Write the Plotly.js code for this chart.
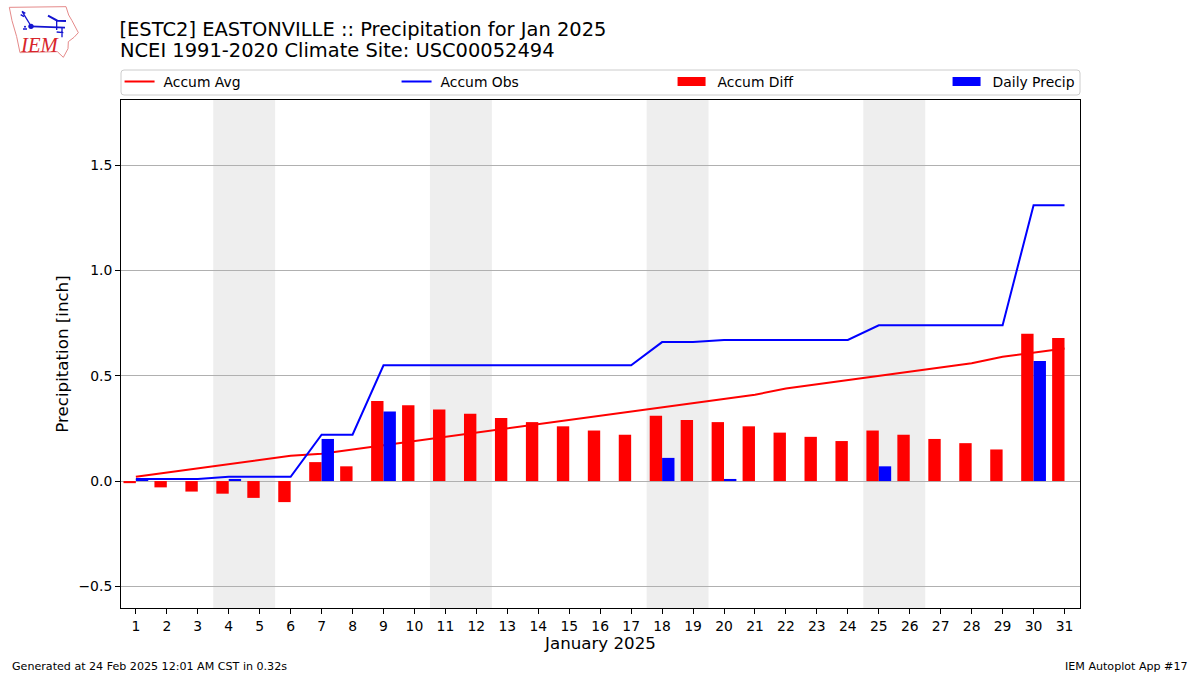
<!DOCTYPE html>
<html>
<head>
<meta charset="utf-8">
<script src="https://cdn.plot.ly/plotly-3.0.1.min.js"></script>
<style>
html,body{margin:0;padding:0;background:#fff;overflow:hidden}
#chart{width:1200px;height:675px}
#logo{position:absolute;left:0;top:0;width:100px;height:60px;pointer-events:none}
</style>
</head>
<body>
<div id="chart"></div>
<svg id="logo" viewBox="0 0 300 180">
<path d="M28 22 L198 20 L206 45 L216 62 L235 98 L222 112 L205 125 L204 146 L190 172 L172 155 L60 158 L50 110 L36 62 Z" fill="none" stroke="#e58a8a" stroke-width="3"/>
<g stroke="#1414d0" fill="none" stroke-width="4">
<path d="M66 34 L93 78 M66 34 L76 40 M62 44 L72 50"/>
<path d="M93 79 L195 83" stroke-width="5"/>
<path d="M144 47 L172 62 L198 63" stroke-width="6"/>
<path d="M170 62 L170 90 M186 84 L186 112 M170 96 L190 98"/>
</g>
<circle cx="93" cy="79" r="8" fill="#1414d0"/>
<circle cx="72" cy="87" r="3" fill="#1414d0"/><circle cx="78" cy="87" r="3" fill="#1414d0"/><circle cx="75" cy="80" r="3" fill="#1414d0"/>
<text x="63" y="155" font-family="Liberation Serif" font-style="italic" font-size="62" fill="#d8252b">IEM</text>
</svg>
<script>
const days = [1,2,3,4,5,6,7,8,9,10,11,12,13,14,15,16,17,18,19,20,21,22,23,24,25,26,27,28,29,30,31];
const accumAvg = [0.02,0.04,0.06,0.08,0.10,0.12,0.13,0.15,0.17,0.19,0.21,0.23,0.25,0.27,0.29,0.31,0.33,0.35,0.37,0.39,0.41,0.44,0.46,0.48,0.50,0.52,0.54,0.56,0.59,0.61,0.63];
const accumObs = [0.01,0.01,0.01,0.02,0.02,0.02,0.22,0.22,0.55,0.55,0.55,0.55,0.55,0.55,0.55,0.55,0.55,0.66,0.66,0.67,0.67,0.67,0.67,0.67,0.74,0.74,0.74,0.74,0.74,1.31,1.31];
const accumDiff = [-0.01,-0.03,-0.05,-0.06,-0.08,-0.10,0.09,0.07,0.38,0.36,0.34,0.32,0.30,0.28,0.26,0.24,0.22,0.31,0.29,0.28,0.26,0.23,0.21,0.19,0.24,0.22,0.20,0.18,0.15,0.70,0.68];
const dailyPrecip = [0.01,0,0,0.01,0,0,0.20,0,0.33,0,0,0,0,0,0,0,0,0.11,0,0.01,0,0,0,0,0.07,0,0,0,0,0.57,0];
const weekends = [[3.5,5.5],[10.5,12.5],[17.5,19.5],[24.5,26.5]];
const yTicks = [-0.5,0,0.5,1.0,1.5];
const yTickLabels = ['−0.5','0.0','0.5','1.0','1.5'];
const titleLine1 = '[ESTC2] EASTONVILLE :: Precipitation for Jan 2025';
const titleLine2 = 'NCEI 1991-2020 Climate Site: USC00052494';

const W = 1200, H = 675, L = 120.5, R = 1080, T = 100, B = 608;
const font = 'DejaVu Sans, sans-serif';
const px = v => (v - L) / (R - L);
const py = v => (B - v) / (B - T);
const yRange = [-0.603, 1.81];

function roundRect(x0, y0, x1, y1, r) {
  const X = px, Y = py;
  return `M${X(x0+r)},${Y(y0)} L${X(x1-r)},${Y(y0)} Q${X(x1)},${Y(y0)} ${X(x1)},${Y(y0+r)} L${X(x1)},${Y(y1-r)} Q${X(x1)},${Y(y1)} ${X(x1-r)},${Y(y1)} L${X(x0+r)},${Y(y1)} Q${X(x0)},${Y(y1)} ${X(x0)},${Y(y1-r)} L${X(x0)},${Y(y0+r)} Q${X(x0)},${Y(y0)} ${X(x0+r)},${Y(y0)} Z`;
}

const traces = [
  {type:'scatter', mode:'lines', name:'Accum Avg', x:days, y:accumAvg, line:{color:'#ff0000', width:2}, legendwidth:232},
  {type:'scatter', mode:'lines', name:'Accum Obs', x:days, y:accumObs, line:{color:'#0000ff', width:2}, legendwidth:232},
  {type:'bar', name:'Accum Diff', x:days, y:accumDiff, width:0.4, offset:-0.4, marker:{color:'#ff0000', line:{width:0}}, yaxis:'y2', legendwidth:230},
  {type:'bar', name:'Daily Precip', x:days, y:dailyPrecip, width:0.4, offset:0, marker:{color:'#0000ff', line:{width:0}}, yaxis:'y2'}
];

const shapes = weekends.map(w => ({type:'rect', xref:'x', yref:'paper', x0:w[0], x1:w[1], y0:0, y1:1, fillcolor:'#eeeeee', line:{width:0}, layer:'below'}));
shapes.push({type:'path', xref:'paper', yref:'paper', path:roundRect(120.5,70,1080,95,3), fillcolor:'#ffffff', line:{color:'#cccccc', width:1}, layer:'below'});

const layout = {
  width:W, height:H,
  paper_bgcolor:'#ffffff', plot_bgcolor:'rgba(0,0,0,0)',
  margin:{l:L, r:W-R, t:T, b:H-B, pad:0},
  font:{family:font, size:13.9, color:'#000000'},
  showlegend:true,
  barmode:'overlay',
  hovermode:false,
  title:{text:titleLine1, x:119.5/W, xanchor:'left', xref:'container', yref:'container', y:1-29/H, yanchor:'middle', font:{family:font, size:19.45, color:'#000'}, pad:{t:0,l:0,b:0,r:0}},
  legend:{orientation:'h', x:-0.0015, xanchor:'left', y:py(66), yanchor:'top', traceorder:'normal',
    itemwidth:30, bgcolor:'rgba(0,0,0,0)', borderwidth:0, font:{family:font, size:13.9, color:'#000'}, tracegroupgap:0, itemclick:false},
  xaxis:{range:[0.52,31.5], tickmode:'array', tickvals:days, ticktext:days.map(String), ticks:'outside', ticklen:5, tickwidth:1, tickcolor:'#000',
    showline:true, mirror:true, linecolor:'#000', linewidth:1, showgrid:false, zeroline:false, tickangle:0,
    tickfont:{family:font, size:13.9},
    title:{text:'January 2025', font:{family:font, size:16.67}, standoff:4}},
  yaxis:{range:yRange, tickmode:'array', tickvals:yTicks, ticktext:yTickLabels, ticks:'outside', ticklen:5, tickwidth:1, tickcolor:'#000',
    showline:true, mirror:true, linecolor:'#000', linewidth:1, showgrid:true, gridcolor:'#b0b0b0', gridwidth:1, zeroline:false,
    tickfont:{family:font, size:13.9},
    title:{text:'Precipitation [inch]', font:{family:font, size:16.67}, standoff:5}},
  yaxis2:{range:yRange, overlaying:'y', side:'left', visible:false, showgrid:false, zeroline:false},
  shapes:shapes,
  annotations:[
    {text:titleLine2, xref:'paper', yref:'paper', x:px(117), y:py(51), xanchor:'left', yanchor:'middle', showarrow:false, font:{family:font, size:19.45, color:'#000'}},
    {text:'Generated at 24 Feb 2025 12:01 AM CST in 0.32s', xref:'paper', yref:'paper', x:px(9), y:py(666), xanchor:'left', yanchor:'middle', showarrow:false, font:{family:font, size:11.1, color:'#000'}},
    {text:'IEM Autoplot App #17', xref:'paper', yref:'paper', x:px(1190), y:py(666), xanchor:'right', yanchor:'middle', showarrow:false, font:{family:font, size:11.1, color:'#000'}}
  ]
};
Plotly.newPlot('chart', traces, layout, {displayModeBar:false, responsive:false}).then(() => {
  document.querySelectorAll('.legend g.legendpoints path').forEach(p => p.setAttribute('d', 'M12,4.5H-16V-4.5H12Z'));
  document.querySelectorAll('.legend text.legendtext').forEach(t => t.setAttribute('x', parseFloat(t.getAttribute('x')) + 4));
});
</script>
</body>
</html>
